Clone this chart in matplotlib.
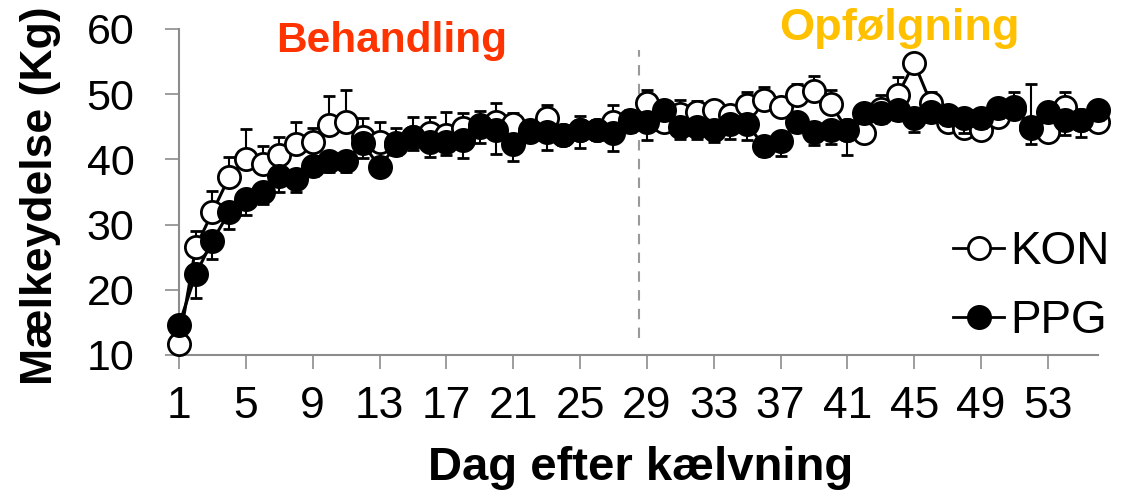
import numpy as np
import matplotlib
matplotlib.use('Agg')
import matplotlib.pyplot as plt
from matplotlib.lines import Line2D

plt.rcParams['font.family'] = ['Liberation Sans', 'DejaVu Sans']

days = list(range(1, 57))

kon = [11.7, 26.5, 31.9, 37.3, 40.1, 39.3, 40.6, 42.4, 42.7, 45.2,
       45.7, 43.4, 42.7, 42.5, 43.5, 44.0, 43.7, 44.8, 45.0, 45.7,
       45.5, 44.2, 46.3, 43.8, 44.5, 44.5, 45.7, 46.0, 48.6, 45.8,
       47.0, 47.3, 47.5, 46.8, 48.3, 49.1, 48.0, 49.8, 50.5, 48.5,
       44.5, 44.0, 47.8, 49.8, 54.8, 48.6, 45.7, 44.8, 44.5, 46.5,
       47.8, 45.0, 44.2, 48.0, 46.0, 45.7]
kon_err = [0.5, 2.5, 3.2, 3.1, 4.5, 2.7, 2.8, 3.3, 2.1, 4.5,
           5.0, 3.0, 3.0, 2.3, 3.0, 2.5, 3.6, 2.3, 2.4, 3.0,
           1.6, 1.5, 2.0, 1.5, 2.1, 1.5, 2.6, 1.5, 2.0, 1.5,
           2.1, 1.7, 1.5, 1.5, 2.0, 2.0, 1.5, 1.8, 2.3, 2.2,
           1.5, 1.0, 2.0, 2.8, 1.0, 1.8, 1.5, 1.2, 1.2, 1.5,
           2.5, 6.6, 4.0, 2.4, 1.5, 1.5]

ppg = [14.6, 22.4, 27.5, 31.9, 34.0, 35.0, 37.5, 37.0, 39.0, 39.8,
       39.8, 42.5, 38.8, 42.2, 43.5, 42.7, 42.7, 42.9, 45.2, 44.5,
       42.4, 44.5, 44.2, 43.7, 44.5, 44.5, 44.0, 45.7, 45.7, 47.5,
       45.0, 45.0, 44.5, 45.5, 45.5, 42.0, 42.8, 45.7, 44.2, 44.5,
       44.5, 47.1, 47.1, 47.5, 46.3, 47.2, 46.8, 46.3, 46.3, 47.9,
       48.0, 44.8, 47.2, 46.0, 46.0, 47.5]
ppg_err = [0.5, 3.7, 2.8, 2.6, 2.6, 1.9, 2.5, 2.0, 1.5, 1.8,
           1.8, 2.3, 1.0, 1.5, 2.1, 2.3, 2.0, 2.7, 2.7, 3.7,
           2.6, 1.5, 2.7, 1.5, 2.7, 1.5, 2.7, 1.5, 2.8, 1.5,
           1.8, 1.8, 1.8, 2.3, 2.5, 1.5, 2.3, 1.5, 2.0, 2.2,
           3.9, 1.5, 1.5, 1.5, 2.1, 1.5, 1.5, 2.3, 1.5, 1.5,
           1.5, 2.5, 1.5, 2.3, 2.6, 1.5]

x_ticks = list(range(1, 54, 4))
y_ticks = [10, 20, 30, 40, 50, 60]

fig = plt.figure(figsize=(11.30, 4.99), dpi=100)
ax = fig.add_axes([0.1584, 0.2886, 0.8133, 0.6533])

zeros = np.zeros(len(days))
ax.errorbar(days, kon, yerr=[zeros, kon_err], fmt='-o', color='black',
            mfc='white', mec='black', ms=16, mew=2, lw=2.2,
            ecolor='black', elinewidth=1.5, capsize=4.5, capthick=1.5,
            zorder=3, clip_on=False)
ax.errorbar(days, ppg, yerr=[ppg_err, zeros], fmt='-o', color='black',
            mfc='black', mec='black', ms=16, mew=2, lw=2.2,
            ecolor='black', elinewidth=1.5, capsize=4.5, capthick=1.5,
            zorder=4, clip_on=False)

# skillelinje mellem behandling og opfølgning
ax.plot([28.5, 28.5], [12.6, 56.8], color='#999999', lw=1.5,
        ls=(0, (5, 4)), zorder=2)

ax.set_xlim(1, 56)
ax.set_ylim(10, 60)
ax.set_xticks(x_ticks)
ax.set_yticks(y_ticks)

for s in ['top', 'right']:
    ax.spines[s].set_visible(False)
for s in ['left', 'bottom']:
    ax.spines[s].set_color('#8c8c8c')
    ax.spines[s].set_linewidth(1.5)

ax.tick_params(axis='both', direction='out', length=10, width=1.2,
               color='#8c8c8c', labelsize=31, labelcolor='black')
ax.tick_params(axis='x', pad=12, labelsize=32)
ax.tick_params(axis='y', pad=22)

ax.set_xlabel('Dag efter kælvning', fontsize=34, fontweight='bold')
ax.set_ylabel('Mælkeydelse (Kg)', fontsize=32, fontweight='bold')
ax.xaxis.set_label_coords(0.502, -0.28)
ax.yaxis.set_label_coords(-0.128, 0.49)

ax.text(13.7, 58.2, 'Behandling', color='#ff3300', fontsize=30.5,
        fontweight='bold', ha='center', va='center')
ax.text(44.1, 60.0, 'Opfølgning', color='#ffc000', fontsize=32.5,
        fontweight='bold', ha='center', va='center', clip_on=False)

handles = [Line2D([], [], color='black', lw=2, marker='o', ms=16, mew=2,
                  mfc='white', mec='black'),
           Line2D([], [], color='black', lw=2, marker='o', ms=16, mew=2,
                  mfc='black', mec='black')]
ax.legend(handles, ['KON', 'PPG'], loc='center right',
          bbox_to_anchor=(1.013, 0.21), frameon=False, fontsize=33,
          handlelength=1.1, handletextpad=0.15, labelspacing=0.55,
          borderaxespad=0, borderpad=0)

fig.savefig('out.png', dpi=100)
